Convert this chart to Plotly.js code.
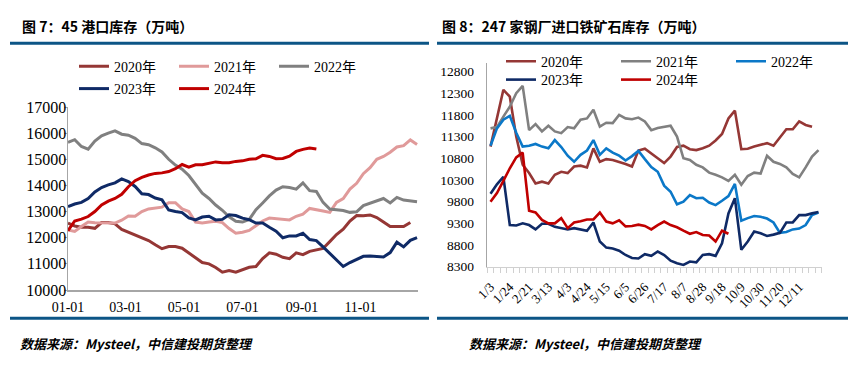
<!DOCTYPE html>
<html><head><meta charset="utf-8">
<script src="https://cdn.plot.ly/plotly-3.0.1.min.js"></script>
<style>html,body{margin:0;padding:0;background:#fff}#chart{width:856px;height:376px}</style>
</head><body><div id="chart"></div>
<script>
// ---------- Figure 7: 45 ports inventory (10k t), weekly from 01-01 ----------
const portNames = ['2020年','2021年','2022年','2023年','2024年'];
const port2020 = [12560,12450,12400,12400,12360,12580,12580,12530,12320,12220,12110,11990,11890,11730,11580,11660,11660,11600,11420,11230,11050,11000,10860,10680,10740,10680,10770,10870,10900,11200,11420,11370,11250,11200,11420,11350,11480,11530,11590,11850,12120,12330,12640,12850,12840,12870,12770,12600,12430,12430,12430,12580];
const port2021 = [12300,12240,12430,12600,12570,12570,12570,12560,12670,12830,12820,13000,13100,13140,13170,13340,13340,13100,13000,12600,12560,12600,12630,12580,12350,12170,12210,12280,12450,12640,12750,12720,12700,12680,12820,12900,13120,13080,13020,12970,13350,13500,13860,14080,14450,14680,15000,15110,15270,15470,15520,15740,15570];
const port2022 = [15650,15750,15490,15390,15700,15900,16000,16090,15960,15920,15800,15600,15560,15440,15280,15000,14780,14620,14380,14020,13700,13500,13250,13050,12800,12630,12600,12700,13070,13330,13600,13820,13950,13920,13860,14100,13800,13770,13350,13100,13060,13040,12970,12990,13230,13330,13400,13500,13330,13540,13440,13400,13380];
const port2023 = [13190,13290,13350,13500,13750,13920,14020,14100,14250,14150,13960,13680,13650,13520,13450,13060,13000,12960,12760,12680,12790,12820,12680,12700,12880,12850,12750,12690,12560,12560,12400,12250,12000,12070,12070,12170,11930,11890,11650,11400,11180,10900,11050,11170,11290,11300,11290,11260,11430,11830,11650,11900,12000];
const port2024 = [12270,12640,12710,12810,13000,13250,13400,13500,13660,13950,14180,14310,14400,14460,14480,14530,14640,14800,14700,14790,14790,14850,14900,14870,14870,14920,14940,15000,15020,15150,15110,15020,15030,15120,15300,15380,15430,15390];

// ---------- Figure 8: 247 steel mills imported ore inventory (10k t) ----------
const millNames = ['2020年','2021年','2022年','2023年','2024年'];
const millWeeks = ['1/3','1/10','1/17','1/24','1/31','2/14','2/21','2/28','3/6','3/13','3/20','3/27','4/3','4/10','4/17','4/24','5/1','5/8','5/15','5/22','5/29','6/5','6/12','6/19','6/26','7/3','7/10','7/17','7/24','7/31','8/7','8/14','8/21','8/28','9/4','9/11','9/18','9/25','10/2','10/9','10/16','10/23','10/30','11/6','11/13','11/20','11/27','12/4','12/11','12/18','12/25','12/31'];
const millTickLabels = ['1/3','1/24','2/21','3/13','4/3','4/24','5/15','6/5','6/26','7/17','8/7','8/28','9/18','10/9','10/30','11/20','12/11'];
const mill2020 = [11070,11760,12380,12220,11300,10650,10460,10220,10260,10220,10420,10490,10460,10610,10630,10590,11030,10720,10780,10760,10720,10670,10610,10980,11020,10900,10800,10690,10840,11060,11090,11010,10990,11030,11090,11210,11360,11720,11900,11010,11020,11070,11110,11150,11090,11290,11470,11470,11650,11570,11530];
const mill2021 = [11490,11520,11760,11990,12300,12470,11450,11590,11420,11550,11420,11380,11520,11490,11690,11720,11920,11530,11620,11610,11800,11720,11700,11740,11650,11450,11500,11530,11550,11300,10800,10760,10650,10590,10470,10420,10360,10280,10420,10190,10390,10470,10450,10860,10720,10670,10590,10440,10360,10590,10840,10990];
const mill2022 = [11090,11490,11690,11780,11390,11070,11090,11130,11070,11030,11220,11060,10860,10720,10880,10980,11220,10880,11030,10930,10860,10750,10850,10970,10780,10600,10490,10170,10030,9740,9800,9950,9880,9890,9780,9720,9820,9930,10210,9360,9420,9470,9450,9410,9320,9080,9100,9160,9180,9260,9490,9550];
const mill2023 = [9980,10200,10370,9260,9250,9300,9260,9160,9290,9290,9220,9190,9160,9190,9160,9130,9320,8880,8740,8720,8670,8570,8500,8490,8590,8550,8650,8570,8440,8380,8340,8420,8400,8570,8590,8550,8840,9530,9880,8690,8880,9110,9070,9010,9040,9080,9320,9320,9490,9490,9530,9560];
const mill2024 = [9800,10000,10280,10570,10820,10930,9590,9550,9380,9300,9300,9420,9190,9320,9350,9390,9390,9550,9340,9300,9370,9230,9240,9270,9240,9160,9260,9340,9260,9210,9130,9060,9100,9030,9020,8880,9130,9060];

// weekly dates (common year) for the left chart
function weekDates(n){
  const out=[];
  for(let i=0;i<n;i++){
    const d=new Date(Date.UTC(2000,0,1+7*i));
    out.push(d.toISOString().slice(0,10));
  }
  return out;
}
function idx(arr){return arr.map((_,i)=>i);}

const W=856,H=376;
const px=x=>x/W, py=y=>(H-y)/H;

const serif='"Liberation Serif","Times New Roman","Noto Sans CJK SC",serif';
const cjk='"Noto Sans CJK SC","Noto Sans CJK JP",sans-serif';

const portSeries=[port2020,port2021,port2022,port2023,port2024];
const portColors=['#953735','#e09a9a','#808080','#0f2a66','#c00000'];
const portLegend=['legend','legend','legend','legend2','legend2'];

const millSeries=[mill2020,mill2021,mill2022,mill2023,mill2024];
const millColors=['#953735','#808080','#0b78c8','#0f2a66','#c00000'];
const millLegend=['legend3','legend3','legend3','legend4','legend4'];

const traces=[];
portSeries.forEach((s,k)=>{
  traces.push({type:'scatter',mode:'lines',x:weekDates(s.length),y:s,name:portNames[k],
    line:{color:portColors[k],width:3},xaxis:'x',yaxis:'y',legend:portLegend[k],hoverinfo:'skip'});
});
millSeries.forEach((s,k)=>{
  traces.push({type:'scatter',mode:'lines',x:idx(s),y:s,name:millNames[k],
    line:{color:millColors[k],width:2.6},xaxis:'x2',yaxis:'y2',legend:millLegend[k],hoverinfo:'skip'});
});

const legendBase={orientation:'h',xanchor:'left',yanchor:'middle',bgcolor:'rgba(0,0,0,0)',
  font:{family:serif,size:14,color:'#000'},traceorder:'normal',entrywidthmode:'pixels'};

const blue='#0c5586';
const layout={
  width:W,height:H,margin:{l:0,r:0,t:0,b:0},
  paper_bgcolor:'#fff',plot_bgcolor:'#fff',showlegend:true,
  xaxis:{domain:[px(68),px(418)],anchor:'y',type:'date',range:['2000-01-01','2000-12-31'],
    tickformat:'%m-%d',dtick:'M2',tick0:'2000-01-01',showline:true,linecolor:'#a6a6a6',linewidth:1.5,
    ticks:'',showgrid:false,zeroline:false,tickfont:{family:serif,size:14,color:'#000'},ticklabelstandoff:4},
  yaxis:{domain:[py(290),py(107)],anchor:'x',range:[10000,17000],dtick:1000,tickformat:'d',showline:true,
    linecolor:'#a6a6a6',linewidth:1.5,ticks:'outside',ticklen:3,tickcolor:'#a6a6a6',showgrid:false,zeroline:false,
    tickfont:{family:serif,size:16,color:'#000'},ticklabelstandoff:-6},
  xaxis2:{domain:[px(487.3),px(821.7)],anchor:'y2',range:[-0.5,millWeeks.length-0.5],
    tickmode:'array',tickvals:millTickLabels.map(l=>millWeeks.indexOf(l)),ticktext:millTickLabels,
    tickangle:-45,ticks:'',showline:true,linecolor:'#d0d0d0',linewidth:1.5,showgrid:false,zeroline:false,
    minor:{tickmode:'linear',tick0:-0.5,dtick:1,ticks:'outside',ticklen:5,tickcolor:'#d0d0d0',tickwidth:1,showgrid:false},
    tickfont:{family:serif,size:13,color:'#000'},ticklabelstandoff:6},
  yaxis2:{domain:[py(266.7),py(62.9)],anchor:'x2',range:[8300,13000],tick0:8300,dtick:500,tickformat:'d',showline:true,
    linecolor:'#a6a6a6',linewidth:1.5,ticks:'',showgrid:false,zeroline:false,
    tickfont:{family:serif,size:13.5,color:'#000'},ticklabelstandoff:9},
  legend:Object.assign({},legendBase,{x:px(74),y:py(66.7),entrywidth:55}),
  legend2:Object.assign({},legendBase,{x:px(74),y:py(89),entrywidth:55}),
  legend3:Object.assign({},legendBase,{x:px(501),y:py(61.7),entrywidth:70}),
  legend4:Object.assign({},legendBase,{x:px(501),y:py(80),entrywidth:70}),
  shapes:[
    {type:'line',xref:'paper',yref:'paper',x0:px(10),x1:px(429),y0:py(43.3),y1:py(43.3),line:{color:blue,width:3}},
    {type:'line',xref:'paper',yref:'paper',x0:px(437),x1:px(848),y0:py(43.3),y1:py(43.3),line:{color:blue,width:3}},
    {type:'line',xref:'paper',yref:'paper',x0:px(10),x1:px(429),y0:py(318.3),y1:py(318.3),line:{color:blue,width:3}},
    {type:'line',xref:'paper',yref:'paper',x0:px(437),x1:px(848),y0:py(318.3),y1:py(318.3),line:{color:blue,width:3}}
  ],
  annotations:[
    {xref:'paper',yref:'paper',x:px(20),y:py(26),xanchor:'left',yanchor:'middle',showarrow:false,
      text:'图 7：45 港口库存（万吨）',font:{family:cjk,size:14,color:'#000',weight:'bold'}},
    {xref:'paper',yref:'paper',x:px(440),y:py(26),xanchor:'left',yanchor:'middle',showarrow:false,
      text:'图 8：247 家钢厂进口铁矿石库存（万吨）',font:{family:cjk,size:14,color:'#000',weight:'bold'}},
    {xref:'paper',yref:'paper',x:px(18),y:py(343),xanchor:'left',yanchor:'middle',showarrow:false,
      text:'数据来源：Mysteel，中信建投期货整理',font:{family:cjk,size:13,color:'#000',weight:'bold',style:'italic'}},
    {xref:'paper',yref:'paper',x:px(467),y:py(343),xanchor:'left',yanchor:'middle',showarrow:false,
      text:'数据来源：Mysteel，中信建投期货整理',font:{family:cjk,size:13,color:'#000',weight:'bold',style:'italic'}}
  ]
};
Plotly.newPlot('chart',traces,layout,{staticPlot:true,displayModeBar:false});
</script></body></html>
